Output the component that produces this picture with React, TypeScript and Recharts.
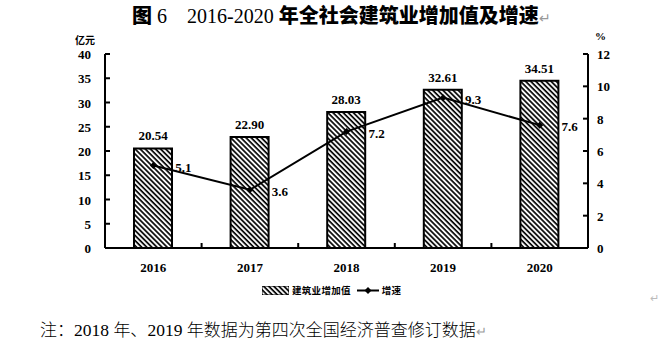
import React from "react";
import { ComposedChart, Bar, Line, XAxis, YAxis, LabelList } from "recharts";

const years = ["2016", "2017", "2018", "2019", "2020"];
const addedValue = [20.54, 22.9, 28.03, 32.61, 34.51];
const growthRate = [5.1, 3.6, 7.2, 9.3, 7.6];
const leftTicks = [0, 5, 10, 15, 20, 25, 30, 35, 40];
const rightTicks = [0, 2, 4, 6, 8, 10, 12];

const data = years.map((year, i) => ({ year, value: addedValue[i], rate: growthRate[i] }));

const SERIF = "'Liberation Serif', 'Times New Roman', serif";
const CJK = "'Noto Sans CJK SC', sans-serif";

const LeftTick = (props: any) => {
  const { x, y, payload } = props;
  return (
    <g>
      <line x1={x} x2={x + 5} y1={y} y2={y} stroke="#000" strokeWidth={2} />
      <text x={x - 14} y={y} dy={5} textAnchor="end" fontFamily={SERIF} fontWeight="bold" fontSize={13} fill="#000">
        {payload.value}
      </text>
    </g>
  );
};

const RightTick = (props: any) => {
  const { x, y, payload } = props;
  return (
    <g>
      <line x1={x - 5} x2={x} y1={y} y2={y} stroke="#000" strokeWidth={2} />
      <text x={x + 9} y={y} dy={5} textAnchor="start" fontFamily={SERIF} fontWeight="bold" fontSize={13} fill="#000">
        {payload.value}
      </text>
    </g>
  );
};

const XTick = (props: any) => {
  const { x, y, payload, index } = props;
  const half = payload.offset || 48.3;
  return (
    <g>
      {index < years.length - 1 && (
        <line x1={x + half} x2={x + half} y1={y} y2={y - 5} stroke="#000" strokeWidth={2} />
      )}
      <text x={x} y={y + 24} textAnchor="middle" fontFamily={SERIF} fontWeight="bold" fontSize={13} fill="#000">
        {payload.value}
      </text>
    </g>
  );
};

const Diamond = (props: any) => {
  const { cx, cy } = props;
  if (cx == null || cy == null) return null;
  const r = 3.5;
  return <path d={`M${cx},${cy - r}L${cx + r},${cy}L${cx},${cy + r}L${cx - r},${cy}Z`} fill="#000" />;
};

const RateLabel = (props: any) => {
  const { x, y, value } = props;
  return (
    <text x={x + 30} y={y + 6} textAnchor="middle" fontFamily={SERIF} fontWeight="bold" fontSize={13} fill="#000">
      {value}
    </text>
  );
};

export default function App() {
  return (
    <div style={{ position: "absolute", left: 0, top: 0, width: 664, height: 357, background: "#fff" }}>
      <div
        style={{
          position: "absolute",
          left: 132,
          top: 3,
          whiteSpace: "pre",
          fontSize: 20,
          lineHeight: "24px",
          color: "#000",
        }}
      >
        <span style={{ fontFamily: CJK, fontWeight: 900 }}>图</span>
        <span style={{ fontFamily: SERIF }}> 6    2016-2020 </span>
        <span style={{ fontFamily: CJK, fontWeight: 900 }}>年全社会建筑业增加值及增速</span>
        <span style={{ fontFamily: SERIF, color: "#999", fontSize: 14 }}>↵</span>
      </div>

      <div style={{ position: "absolute", left: 75, top: 32, fontFamily: CJK, fontWeight: "bold", fontSize: 10, color: "#000" }}>
        亿元
      </div>
      <div style={{ position: "absolute", left: 595, top: 30, fontFamily: SERIF, fontWeight: "bold", fontSize: 11, color: "#000" }}>
        %
      </div>

      <ComposedChart width={664} height={357} data={data} margin={{ top: 54, right: 16, bottom: 79, left: 0 }}>
        <defs>
          <pattern id="hatch" width="3.6" height="3.6" patternUnits="userSpaceOnUse" patternTransform="rotate(-45)">
            <rect width="3.6" height="3.6" fill="#fff" />
            <line x1="1" y1="0" x2="1" y2="3.6" stroke="#000" strokeWidth="1.7" />
          </pattern>
        </defs>
        <XAxis
          dataKey="year"
          height={30}
          tickSize={0}
          tickMargin={0}
          tickLine={false}
          axisLine={{ stroke: "#000", strokeWidth: 2 }}
          tick={<XTick />}
          interval={0}
        />
        <YAxis
          yAxisId="left"
          width={105}
          domain={[0, 40]}
          ticks={leftTicks}
          tickSize={0}
          tickMargin={0}
          tickLine={false}
          axisLine={{ stroke: "#000", strokeWidth: 2 }}
          tick={<LeftTick />}
          interval={0}
        />
        <YAxis
          yAxisId="right"
          orientation="right"
          width={60}
          domain={[0, 12]}
          ticks={rightTicks}
          tickSize={0}
          tickMargin={0}
          tickLine={false}
          axisLine={{ stroke: "#000", strokeWidth: 2 }}
          tick={<RightTick />}
          interval={0}
        />
        <Bar yAxisId="left" dataKey="value" barSize={38} fill="url(#hatch)" stroke="#000" strokeWidth={2} isAnimationActive={false}>
          <LabelList
            dataKey="value"
            position="top"
            offset={8}
            formatter={(v: any) => Number(v).toFixed(2)}
            style={{ fontFamily: SERIF, fontWeight: "bold", fontSize: 13, fill: "#000" }}
          />
        </Bar>
        <Line
          yAxisId="right"
          dataKey="rate"
          type="linear"
          stroke="#000"
          strokeWidth={2}
          dot={<Diamond />}
          activeDot={false}
          isAnimationActive={false}
        >
          <LabelList dataKey="rate" content={<RateLabel />} />
        </Line>
      </ComposedChart>

      <div style={{ position: "absolute", left: 262, top: 282, display: "flex", alignItems: "center", height: 16, color: "#000" }}>
        <svg width={27} height={9} style={{ display: "block" }}>
          <rect x={0} y={0} width={27} height={9} fill="url(#hatch)" stroke="#000" strokeWidth={1} />
        </svg>
        <span style={{ fontFamily: CJK, fontWeight: "bold", fontSize: 9.5, letterSpacing: 0.3, marginLeft: 3 }}>建筑业增加值</span>
        <svg width={22} height={9} style={{ display: "block", marginLeft: 6 }}>
          <line x1={0} x2={22} y1={4.5} y2={4.5} stroke="#000" strokeWidth={2} />
          <path d="M11,1L14.5,4.5L11,8L7.5,4.5Z" fill="#000" />
        </svg>
        <span style={{ fontFamily: CJK, fontWeight: "bold", fontSize: 9.5, letterSpacing: 0.3, marginLeft: 3 }}>增速</span>
      </div>

      <div style={{ position: "absolute", left: 650, top: 292, fontFamily: SERIF, color: "#bbb", fontSize: 11 }}>↵</div>

      <div style={{ position: "absolute", left: 40, top: 319, whiteSpace: "pre", color: "#000", lineHeight: "20px" }}>
        <span style={{ fontFamily: CJK, fontSize: 17, fontWeight: 300 }}>注：</span>
        <span style={{ fontFamily: SERIF, fontSize: 17.5 }}>2018 </span>
        <span style={{ fontFamily: CJK, fontSize: 17, fontWeight: 300 }}>年、</span>
        <span style={{ fontFamily: SERIF, fontSize: 17.5 }}>2019 </span>
        <span style={{ fontFamily: CJK, fontSize: 17, fontWeight: 300 }}>年数据为第四次全国经济普查修订数据</span>
        <span style={{ fontFamily: SERIF, color: "#999", fontSize: 13 }}>↵</span>
      </div>
    </div>
  );
}
